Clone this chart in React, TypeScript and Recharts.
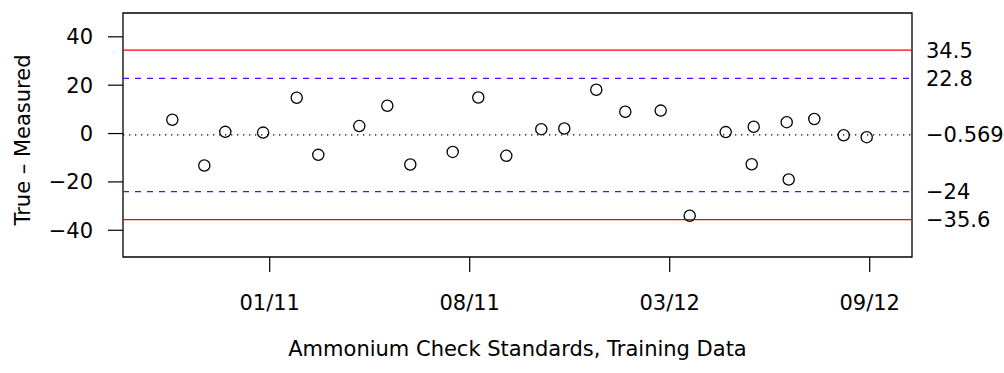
import React from 'react';
import {
  ScatterChart,
  Scatter,
  XAxis,
  YAxis,
  ReferenceLine,
  ReferenceArea,
} from 'recharts';

// position of each check standard along the run axis, and True - Measured
const runPos = [
  51.3, 67.3, 77.8, 96.7, 113.5, 124.3, 144.8, 158.8, 170.3, 191.5, 204.3, 218.3, 235.8,
  247.3, 263.3, 277.8, 295.5, 310, 328, 341, 342, 358.5, 359.5, 372.3, 387, 398.5,
];
const diffs = [
  5.7, -13.2, 0.7, 0.4, 14.8, -8.8, 3.1, 11.5, -12.8, -7.6, 14.9, -9.2, 1.8,
  2.1, 18.1, 9.0, 9.5, -34.0, 0.6, -12.7, 2.8, 4.7, -19.0, 6.0, -0.7, -1.5,
];

const xTicks = [100, 200, 300, 400];
const xTickLabels = ['01/11', '08/11', '03/12', '09/12'];
const yTicks = [-40, -20, 0, 20, 40];

const center = -0.569;
const warnLimits = [22.8, -24];
const controlLimits = [34.5, -35.6];
const limitLabels = [34.5, 22.8, -0.569, -24, -35.6];

const xDomain: [number, number] = [26.65, 421.15];
const yDomain: [number, number] = [-51.05, 49.85];

const points = runPos.map((x, i) => ({ x, y: diffs[i] }));

const minus = (v: number) => (v < 0 ? '\u2212' + Math.abs(v) : String(v));
const FONT = 21;

const Ring = (props: any) => {
  const { cx, cy } = props;
  return <circle cx={cx} cy={cy} r={5.6} fill="none" stroke="#000" strokeWidth={1.3} />;
};

export default function App() {
  return (
    <div
      style={{
        position: 'absolute',
        left: 0,
        top: 0,
        width: 1004,
        height: 373,
        background: '#fff',
        fontFamily: '"DejaVu Sans", "Liberation Sans", Arial, sans-serif',
      }}
    >
      <ScatterChart width={1004} height={373} margin={{ top: 13, right: 0, bottom: 0, left: 0 }}>
        <XAxis
          type="number"
          dataKey="x"
          domain={xDomain}
          ticks={xTicks}
          tickFormatter={(v: number) => xTickLabels[xTicks.indexOf(v)] ?? ''}
          axisLine={false}
          tickSize={15}
          tickMargin={23}
          tickLine={{ stroke: '#000', strokeWidth: 1.2 }}
          tick={{ fontSize: FONT, fill: '#000' }}
          height={116}
          allowDataOverflow
          label={{
            value: 'Ammonium Check Standards, Training Data',
            position: 'insideBottom',
            offset: 17,
            fontSize: FONT,
            fill: '#000',
          }}
        />
        <YAxis
          yAxisId="left"
          type="number"
          dataKey="y"
          domain={yDomain}
          ticks={yTicks}
          tickFormatter={minus}
          axisLine={false}
          tickSize={15}
          tickMargin={15}
          tickLine={{ stroke: '#000', strokeWidth: 1.2 }}
          tick={{ fontSize: FONT, fill: '#000' }}
          width={123}
          allowDataOverflow
          label={{
            value: 'True \u2013 Measured',
            angle: -90,
            position: 'center',
            dx: -39,
            dy: 5,
            fontSize: FONT,
            fill: '#000',
          }}
        />
        <YAxis
          yAxisId="right"
          orientation="right"
          type="number"
          domain={yDomain}
          ticks={limitLabels}
          tickFormatter={minus}
          axisLine={false}
          tickLine={false}
          tickSize={0}
          tickMargin={14}
          interval={0}
          tick={{ fontSize: FONT, fill: '#000', textAnchor: 'start' }}
          width={92}
          allowDataOverflow
        />
        <ReferenceArea
          yAxisId="left"
          x1={xDomain[0]}
          x2={xDomain[1]}
          y1={yDomain[0]}
          y2={yDomain[1]}
          fill="none"
          stroke="#000"
          strokeWidth={1.3}
          ifOverflow="visible"
        />
        {controlLimits.map((v) => (
          <ReferenceLine key={'c' + v} yAxisId="left" y={v} stroke="#ff0000" strokeWidth={1.3} />
        ))}
        {warnLimits.map((v) => (
          <ReferenceLine
            key={'w' + v}
            yAxisId="left"
            y={v}
            stroke="#6600ff"
            strokeWidth={1.3}
            strokeDasharray="6 6"
          />
        ))}
        <ReferenceLine yAxisId="left" y={center} stroke="#000" strokeWidth={1.2} strokeDasharray="1.3 4.7" />
        <Scatter yAxisId="left" data={points} shape={Ring} isAnimationActive={false} />
      </ScatterChart>
    </div>
  );
}
